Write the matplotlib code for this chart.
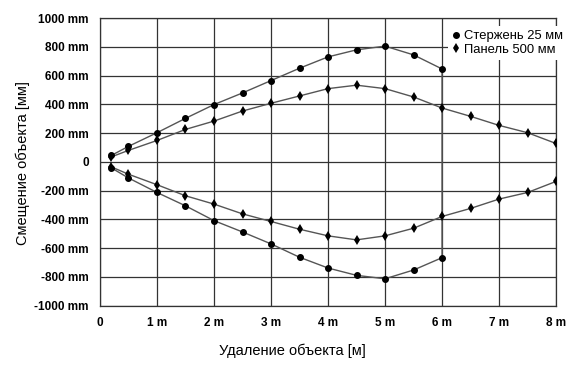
import matplotlib
matplotlib.use("Agg")
import matplotlib.pyplot as plt
from matplotlib.lines import Line2D

# distances, m
x_rod = [0.2, 0.5, 1.0, 1.5, 2.0, 2.5, 3.0, 3.5, 4.0, 4.5, 5.0, 5.5, 6.0]
x_panel = [0.2, 0.5, 1.0, 1.5, 2.0, 2.5, 3.0, 3.5, 4.0, 4.5, 5.0, 5.5, 6.0, 6.5, 7.0, 7.5, 8.0]

# offsets, mm
rod_upper = [45, 108, 203, 303, 399, 480, 566, 652, 731, 780, 806, 745, 647]
rod_lower = [-42, -112, -213, -306, -409, -488, -571, -664, -739, -790, -814, -753, -667]
panel_upper = [35, 80, 149, 226, 284, 354, 408, 459, 510, 534, 510, 452, 375, 317, 254, 203, 128]
panel_lower = [-35, -86, -159, -236, -294, -362, -415, -469, -515, -543, -515, -462, -380, -324, -259, -213, -136]

y_ticks = list(range(-1000, 1001, 200))
y_labels = ["-1000 mm", "-800 mm", "-600 mm", "-400 mm", "-200 mm", "0",
            "200 mm", "400 mm", "600 mm", "800 mm", "1000 mm"]
x_ticks = list(range(0, 9))
x_labels = ["0"] + [f"{i} m" for i in range(1, 9)]

legend_labels = ["Стержень 25 мм", "Панель 500 мм"]

plt.rcParams["font.family"] = ["Liberation Sans", "DejaVu Sans"]

fig = plt.figure(figsize=(5.68, 3.65), dpi=100)
ax = fig.add_axes([0.176, 0.163, 0.803, 0.787])

line_kw = dict(color="#555555", lw=1.0, zorder=3)
# rod: closed loop, the two branches joined at 6 m
ax.plot(x_rod + x_rod[::-1], rod_upper + rod_lower[::-1], **line_kw)
ax.plot(x_panel, panel_upper, **line_kw)
ax.plot(x_panel, panel_lower, **line_kw)

ax.plot(x_rod, rod_upper, "o", color="black", ms=4, zorder=4)
ax.plot(x_rod, rod_lower, "o", color="black", ms=4, zorder=4)
ax.plot(x_panel, panel_upper, "d", color="black", ms=5.5, mew=0, zorder=4)
ax.plot(x_panel, panel_lower, "d", color="black", ms=5.5, mew=0, zorder=4)

ax.set_xlim(0, 8)
ax.set_ylim(-1000, 1000)
ax.set_xticks(x_ticks)
ax.set_yticks(y_ticks)
tick_font = dict(family=["Liberation Sans Narrow", "Liberation Sans"], weight="bold", size=8.5)
ax.set_xticklabels(x_labels, fontdict=tick_font)
ax.set_yticklabels(y_labels, fontdict=tick_font)
ax.tick_params(axis="y", length=0, pad=8)
ax.tick_params(axis="x", length=0, pad=8)
ax.grid(True, color="#333333", lw=0.9)
ax.set_axisbelow(True)
for s in ax.spines.values():
    s.set_color("#333333")
    s.set_linewidth(0.9)

handles = [Line2D([], [], ls="", marker="o", color="black", ms=4),
           Line2D([], [], ls="", marker="d", color="black", ms=5.5, mew=0)]
leg = ax.legend(handles, legend_labels, loc="upper left", bbox_to_anchor=(0.764, 0.972),
                frameon=True, fontsize=9.4, handlelength=0.6, handletextpad=0.3,
                borderpad=0.3, labelspacing=0.12, borderaxespad=0)
leg.get_frame().set_edgecolor("none")
leg.get_frame().set_facecolor("white")
leg.get_frame().set_alpha(1)
leg.set_zorder(5)

fig.text(0.514, 0.04, "Удаление объекта [м]", ha="center", va="center", fontsize=10.5)
fig.text(0.041, 0.553, "Смещение объекта [мм]", ha="center", va="center",
         rotation=90, fontsize=10.5)

fig.savefig("out.png", dpi=100)
